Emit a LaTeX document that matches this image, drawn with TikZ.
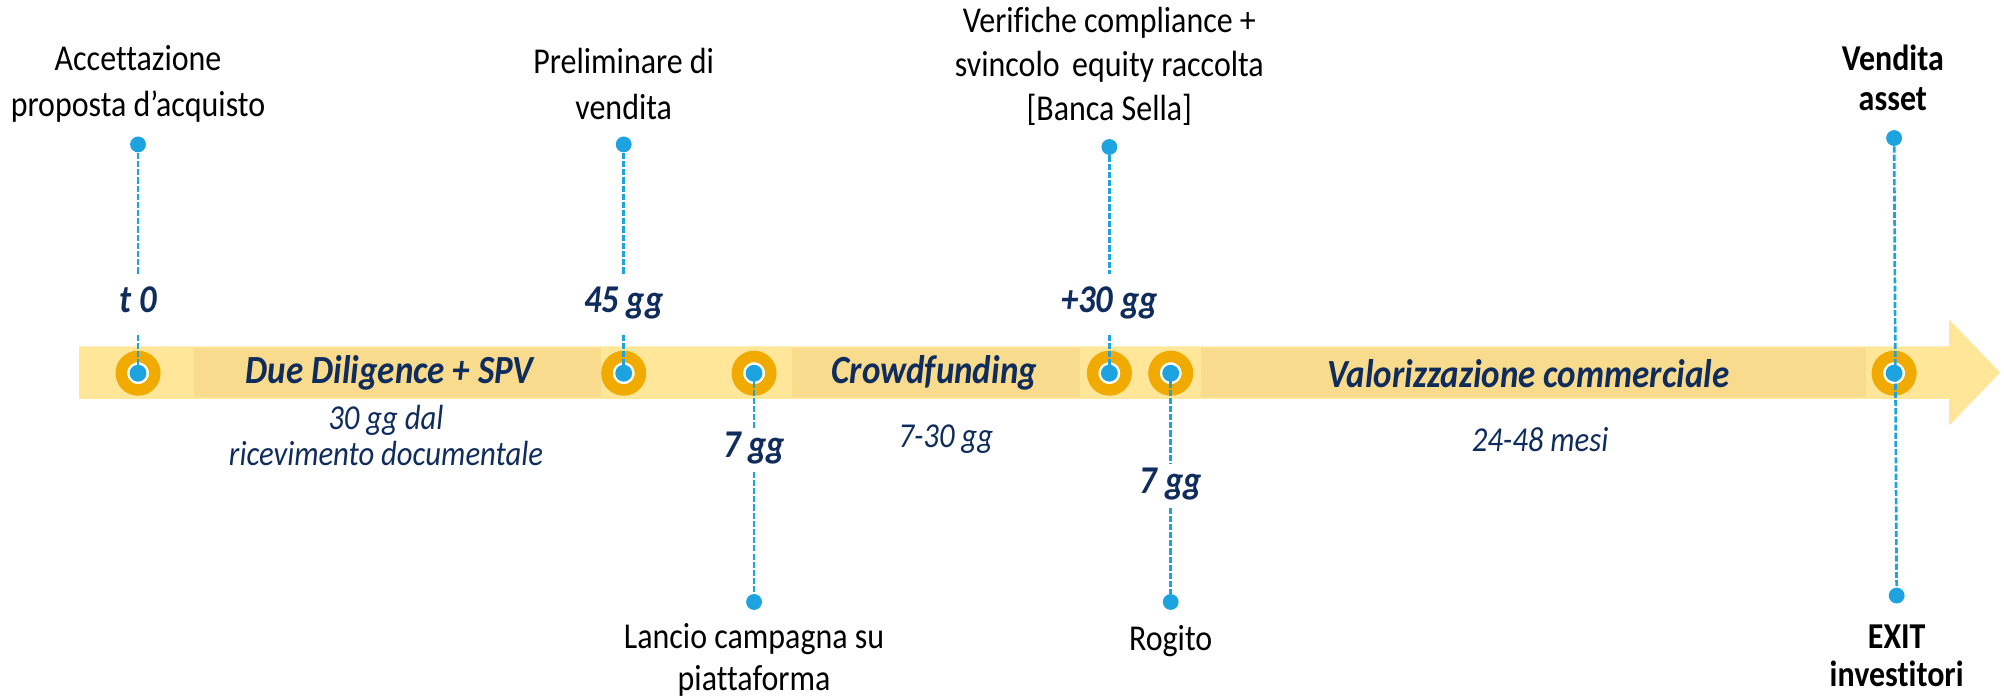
\documentclass[tikz,border=0pt]{standalone}
\usepackage{fontspec}
\setmainfont{Carlito}[Ligatures=NoCommon]
\definecolor{bandY}{HTML}{FFE699}
\definecolor{bandD}{HTML}{F8DB8C}
\definecolor{ringO}{HTML}{F0AA00}
\definecolor{dotB}{HTML}{1DA3DF}
\definecolor{navy}{HTML}{0F2C5C}
\tikzset{
  ring/.style={circle, fill=white, draw=ringO, line width=4.5pt, minimum size=13.1pt, inner sep=0pt},
  bdot/.style={circle, fill=dotB, minimum size=6.6pt, inner sep=0pt},
  pdot/.style={circle, fill=dotB, minimum size=6.2pt, inner sep=0pt},
  dl/.style={draw=dotB, line width=1.05pt, dash pattern=on 2.4pt off 0.8pt},
  vst/.style={yscale=1.14, transform shape},
  toplab/.style={vst, align=center, text=black, font=\fontsize{12.5}{15.8}\selectfont, inner sep=0pt},
  boldlab/.style={vst, align=center, text=black, font=\fontsize{12.5}{13.6}\selectfont\bfseries, inner sep=0pt},
  phase/.style={vst, text=navy, font=\fontsize{13.7}{16}\selectfont\bfseries\itshape, inner sep=0pt},
  dur/.style={vst, align=center, text=navy, font=\fontsize{12}{12.3}\selectfont\itshape, inner sep=0pt},
  tlab/.style={vst, text=navy, font=\fontsize{13.5}{15}\selectfont\bfseries\itshape, text height=8pt, text depth=2.6pt, inner xsep=1pt},
}
\begin{document}
\begin{tikzpicture}[x=0.5pt,y=-0.5pt]
\useasboundingbox (0,0) rectangle (1568,545);
% band arrow
\fill[bandY] (62,271) -- (1525,271) -- (1525,250) -- (1565,291.5) -- (1525,333) -- (1525,312) -- (62,312) -- cycle;
\fill[bandD] (152,272) rectangle (470,311);
\fill[bandD] (620,272) rectangle (845,311);
\fill[bandD] (940,272) rectangle (1460,311);
% rings
\node[ring] (r0) at (108,292) {};
\node[ring] (r1) at (488,292) {};
\node[ring] (r2) at (590,292) {};
\node[ring] (r3) at (868,292) {};
\node[ring] (r4) at (916,292) {};
\node[ring] (r5) at (1482,292) {};
% band texts
\node[phase] (ph1) at (305,292) {Due Diligence + SPV};
\node[phase] (ph2) at (731,292) {Crowdfunding};
\node[phase] (ph3) at (1196,292) {Valorizzazione commerciale};
\node[dur] (du1) at (302,341) {30 gg dal\\ricevimento documentale};
\node[dur] (du2) at (740,344) {7-30 gg};
\node[dur] (du3) at (1205,344) {24-48 mesi};
% point dots
\node[pdot] (p0) at (108,113) {};
\node[pdot] (p1) at (488,113) {};
\node[pdot] (p3) at (868,115) {};
\node[pdot] (p5) at (1482,108) {};
\node[pdot] (q2) at (590,471) {};
\node[pdot] (q4) at (916,471) {};
\node[pdot] (q5) at (1484,466) {};
% time labels
\node[tlab, inner ysep=5pt] (l0) at (108,238) {t 0};
\node[tlab, inner ysep=5pt] (l1) at (488,238) {45 gg};
\node[tlab, inner ysep=5pt] (l3) at (868,238) {+30 gg};
\node[tlab, inner ysep=2pt] (l2) at (590,352) {7 gg};
\node[tlab, inner ysep=2pt] (l4) at (916,380) {7 gg};
% center dots
\node[bdot] (d0) at (108,292) {};
\node[bdot] (d1) at (488,292) {};
\node[bdot] (d2) at (590,292) {};
\node[bdot] (d3) at (868,292) {};
\node[bdot] (d4) at (916,292) {};
\node[bdot] (d5) at (1482,292) {};
% dashed connectors
\draw[dl] (p0) -- (l0); \draw[dl] (l0) -- (d0.center);
\draw[dl] (p1) -- (l1); \draw[dl] (l1) -- (d1.center);
\draw[dl] (p3) -- (l3); \draw[dl] (l3) -- (d3.center);
\draw[dl] (d2.center) -- (l2); \draw[dl] (l2) -- (q2);
\draw[dl] (d4.center) -- (l4); \draw[dl] (l4) -- (q4);
\draw[dl] (p5) -- (q5);
% top labels
\node[toplab] (t0) at (108,66) {Accettazione\\proposta d’acquisto};
\node[toplab] (t1) at (488,66) {Preliminare di\\vendita};
\node[toplab, font=\fontsize{12.5}{15}\selectfont] (t3) at (868,52) {Verifiche compliance +\\svincolo\, equity raccolta\\{[Banca Sella]}};
\node[boldlab] (t5) at (1481,61) {Vendita\\asset};
% bottom labels
\node[toplab, font=\fontsize{12.5}{14.4}\selectfont] (b2) at (590,516) {Lancio campagna su\\piattaforma};
\node[toplab] (b4) at (916,502) {Rogito};
\node[boldlab, font=\fontsize{12.5}{13.2}\selectfont\bfseries] (b5) at (1484,513) {EXIT\\investitori};
\end{tikzpicture}
\end{document}
